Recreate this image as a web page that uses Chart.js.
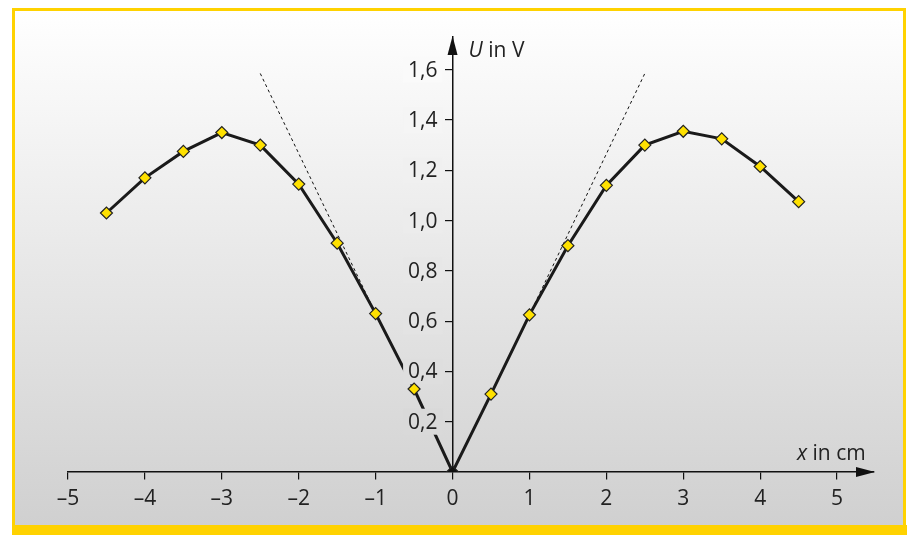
<!DOCTYPE html>
<html>
<head>
<meta charset="utf-8">
<script src="https://cdn.jsdelivr.net/npm/chart.js@4"></script>
<style>
  html, body { margin: 0; padding: 0; background: #fff; }
  #wrap { width: 910px; height: 535px; }
</style>
</head>
<body>
<div id="wrap"><canvas id="chart" width="910" height="535"></canvas></div>
<script>
// measured points (x in cm, U in V)
const xValues = [-4.5, -4, -3.5, -3, -2.5, -2, -1.5, -1, -0.5, 0, 0.5, 1, 1.5, 2, 2.5, 3, 3.5, 4, 4.5];
const uValues = [1.03, 1.17, 1.275, 1.35, 1.30, 1.145, 0.91, 0.63, 0.33, 0, 0.31, 0.625, 0.90, 1.14, 1.30, 1.355, 1.325, 1.215, 1.075];

// dashed tangents
const tangentLeftX = [-2.5, -1];
const tangentLeftU = [1.585, 0.63];
const tangentRightX = [1, 2.5];
const tangentRightU = [0.625, 1.585];

// axis ticks
const xTicks = [-5, -4, -3, -2, -1, 0, 1, 2, 3, 4, 5];
const xTickLabels = ['–5', '–4', '–3', '–2', '–1', '0', '1', '2', '3', '4', '5'];
const yTicks = [0.2, 0.4, 0.6, 0.8, 1.0, 1.2, 1.4, 1.6];
const yTickLabels = ['0,2', '0,4', '0,6', '0,8', '1,0', '1,2', '1,4', '1,6'];

const FONT = '"Open Sans", "Noto Sans", sans-serif';
const YELLOW = '#ffd200';

// background shade at a given canvas y (same as the frame gradient)
function shadeAt(y) {
    const t = Math.min(1, Math.max(0, (y - 10) / 515));
    const v = Math.round(255 - t * 47);
    return `rgb(${v},${v},${v})`;
}

const measured = xValues.map((x, i) => ({ x: x, y: uValues[i] }));

const framePlugin = {
    id: 'frame',
    beforeDraw(chart) {
        const ctx = chart.ctx;
        ctx.save();
        ctx.fillStyle = '#fff';
        ctx.fillRect(0, 0, 910, 535);
        const g = ctx.createLinearGradient(0, 10, 0, 525);
        g.addColorStop(0, shadeAt(10));
        g.addColorStop(1, shadeAt(525));
        ctx.fillStyle = g;
        ctx.fillRect(13, 9, 892, 518);
        ctx.strokeStyle = YELLOW;
        ctx.lineWidth = 3;
        ctx.strokeRect(13.5, 9.5, 891, 520);
        ctx.fillStyle = YELLOW;
        ctx.fillRect(12, 525, 895, 10);
        ctx.restore();
    },
    afterDatasetDraw(chart, args) {
        // after the curve (dataset 1): y tick labels on a background patch that hides it,
        // the markers (dataset 0) are drawn afterwards on top
        if (args.index !== 1) return;
        const ctx = chart.ctx;
        const xs = chart.scales.x, ys = chart.scales.y;
        const right = xs.getPixelForValue(0) - 15;
        ctx.save();
        ctx.font = '21px ' + FONT;
        ctx.textAlign = 'right';
        ctx.textBaseline = 'middle';
        yTicks.forEach((v, i) => {
            const y = ys.getPixelForValue(v);
            const w = ctx.measureText(yTickLabels[i]).width;
            ctx.fillStyle = shadeAt(y);
            ctx.fillRect(right - w - 5, y - 13, w + 10, 26);
            ctx.fillStyle = '#222';
            ctx.fillText(yTickLabels[i], right, y + 1);
        });
        ctx.restore();
    },
    afterDraw(chart) {
        const ctx = chart.ctx;
        const xs = chart.scales.x, ys = chart.scales.y;
        const x0 = xs.getPixelForValue(0), y0 = ys.getPixelForValue(0);
        const top = chart.chartArea.top, right = chart.chartArea.right;
        ctx.save();
        ctx.fillStyle = '#111';
        // arrow heads
        ctx.beginPath();
        ctx.moveTo(x0, top - 1);
        ctx.lineTo(x0 - 5, top + 18);
        ctx.lineTo(x0 + 5, top + 18);
        ctx.closePath();
        ctx.fill();
        ctx.beginPath();
        ctx.moveTo(right + 1, y0);
        ctx.lineTo(right - 18, y0 - 5);
        ctx.lineTo(right - 18, y0 + 5);
        ctx.closePath();
        ctx.fill();
        // axis titles
        ctx.fillStyle = '#222';
        ctx.textBaseline = 'alphabetic';
        ctx.font = 'italic 21px ' + FONT;
        ctx.fillText('U', x0 + 16, top + 20);
        let w = ctx.measureText('U').width;
        ctx.font = '21px ' + FONT;
        ctx.fillText(' in V', x0 + 16 + w, top + 20);
        ctx.font = 'italic 21px ' + FONT;
        ctx.fillText('x', 797, y0 - 12);
        w = ctx.measureText('x').width;
        ctx.font = '21px ' + FONT;
        ctx.fillText(' in cm', 797 + w, y0 - 12);
        ctx.restore();
    }
};

new Chart(document.getElementById('chart'), {
    type: 'scatter',
    data: {
        datasets: [
            {
                // markers
                data: measured,
                showLine: false,
                pointStyle: 'rectRot',
                pointRadius: 6,
                pointBorderWidth: 1.2,
                pointBorderColor: '#222',
                pointBackgroundColor: ctx => xValues[ctx.dataIndex] === 0 ? '#111' : '#ffe100',
                order: 1
            },
            {
                // curve
                data: measured,
                showLine: true,
                borderColor: '#1a1a1a',
                borderWidth: 3,
                pointRadius: 0,
                order: 2
            },
            {
                data: tangentLeftX.map((x, i) => ({ x: x, y: tangentLeftU[i] })),
                showLine: true,
                borderColor: '#111',
                borderWidth: 1,
                borderDash: [3, 3],
                pointRadius: 0,
                order: 3
            },
            {
                data: tangentRightX.map((x, i) => ({ x: x, y: tangentRightU[i] })),
                showLine: true,
                borderColor: '#111',
                borderWidth: 1,
                borderDash: [3, 3],
                pointRadius: 0,
                order: 3
            }
        ]
    },
    options: {
        responsive: false,
        animation: false,
        layout: { padding: { left: 68, right: 36, top: 37, bottom: 63 } },
        plugins: { legend: { display: false }, tooltip: { enabled: false } },
        scales: {
            x: {
                type: 'linear',
                min: -5,
                max: 5.48,
                position: { y: 0 },
                afterFit: s => { s.height = 0; },
                afterBuildTicks: s => { s.ticks = xTicks.map(v => ({ value: v })); },
                border: { display: true, color: '#111', width: 1.5 },
                grid: { drawOnChartArea: false, drawTicks: true, tickLength: 7, color: '#111', lineWidth: 1.2 },
                ticks: {
                    color: '#222',
                    font: { family: FONT, size: 21 },
                    padding: 7,
                    maxRotation: 0,
                    callback: (v) => xTickLabels[xTicks.indexOf(v)]
                }
            },
            y: {
                type: 'linear',
                min: 0,
                max: 1.73,
                position: { x: 0 },
                afterFit: s => { s.width = 0; },
                afterBuildTicks: s => { s.ticks = yTicks.map(v => ({ value: v })); },
                border: { display: true, color: '#111', width: 1.5 },
                grid: { drawOnChartArea: false, drawTicks: true, tickLength: 7, color: '#111', lineWidth: 1.2 },
                // labels are painted by the plugin so they can mask the curve
                ticks: { display: false }
            }
        }
    },
    plugins: [framePlugin]
});
</script>
</body>
</html>
